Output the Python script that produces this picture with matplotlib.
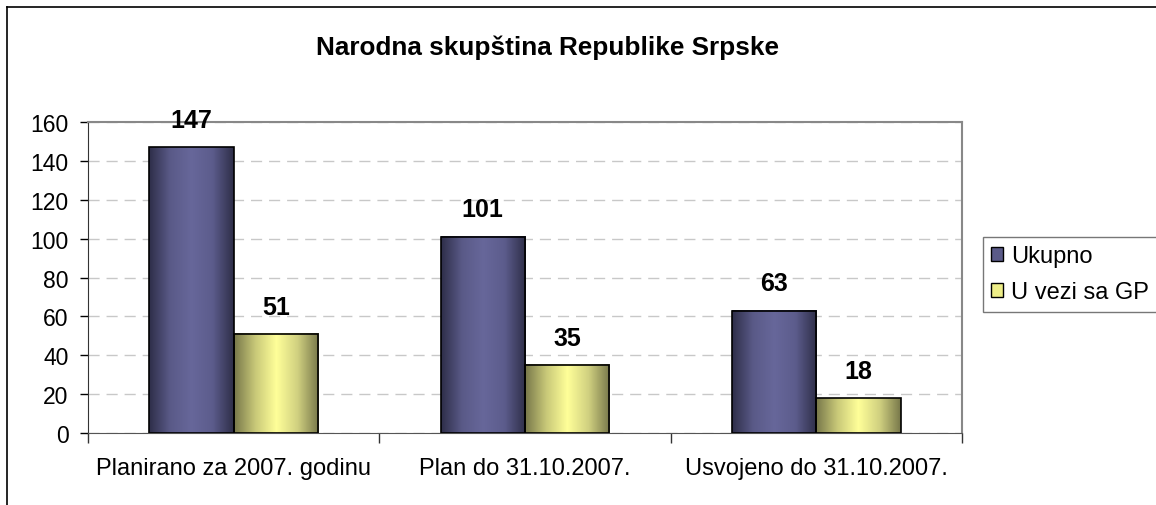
import numpy as np
import matplotlib.pyplot as plt
from matplotlib.colors import LinearSegmentedColormap
from matplotlib.lines import Line2D

plt.rcParams['font.family'] = ['Liberation Sans', 'DejaVu Sans']

# --- podaci ---
kategorije = ["Planirano za 2007. godinu", "Plan do 31.10.2007.", "Usvojeno do 31.10.2007."]
ukupno = [147, 101, 63]
u_vezi_sa_gp = [51, 35, 18]
serije = ["Ukupno", "U vezi sa GP"]
y_ticks = [0, 20, 40, 60, 80, 100, 120, 140, 160]

# boje (gradijent: rub - sredina - rub)
boje_ljub = ["#2e2e48", "#5a5a88", "#67679a", "#5c5c8c", "#2e2e48"]
boje_zuta = ["#77774a", "#c8c878", "#ffff99", "#d0d080", "#77774a"]
cmap_ljub = LinearSegmentedColormap.from_list("ljub", boje_ljub)
cmap_zuta = LinearSegmentedColormap.from_list("zuta", boje_zuta)

fig = plt.figure(figsize=(11.56, 5.06), dpi=100)
ax = fig.add_axes([88 / 1156, 1 - 434 / 506, (962 - 88) / 1156, (434 - 123) / 506])

x = np.arange(len(kategorije))
w = 0.29
grad = np.linspace(0, 1, 256).reshape(1, -1)

def crtaj(pozicije, vrijednosti, cmap, ime):
    bars = ax.bar(pozicije, vrijednosti, width=w, facecolor="none",
                  edgecolor="black", linewidth=1.2, zorder=4, label=ime)
    for b in bars:
        x0, y0 = b.get_x(), b.get_y()
        ax.imshow(grad, cmap=cmap, aspect="auto", zorder=3,
                  extent=(x0, x0 + b.get_width(), y0, y0 + b.get_height()))
    for px, v in zip(pozicije, vrijednosti):
        ax.annotate(str(v), (px, v), xytext=(0, 11), textcoords="offset points",
                    ha="center", va="bottom", fontsize=18, fontweight="bold")
    return bars

crtaj(x - w / 2, ukupno, cmap_ljub, serije[0])
crtaj(x + w / 2, u_vezi_sa_gp, cmap_zuta, serije[1])

ax.set_xlim(-0.5, len(kategorije) - 0.5)
ax.set_ylim(0, 160)
ax.set_yticks(y_ticks)
ax.tick_params(axis="y", labelsize=16.5, length=6, direction="out", width=1, pad=8)
ax.set_xticks(x)
ax.set_xticklabels(kategorije, fontsize=17)
ax.tick_params(axis="x", length=0, pad=17)
ax.set_xticks(np.arange(len(kategorije) + 1) - 0.5, minor=True)
ax.tick_params(axis="x", which="minor", length=7, width=1, color="#333333")

ax.yaxis.grid(True, linestyle=(0, (8, 5)), color="#c8c8c8", linewidth=1)
ax.set_axisbelow(True)
for s in ["top", "right"]:
    ax.spines[s].set_color("#888888")
    ax.spines[s].set_linewidth(1.5)
ax.spines["left"].set_color("#333333")
ax.spines["bottom"].set_color("#555555")

fig.text(0.474, 1 - 48 / 506, "Narodna skupština Republike Srpske", ha="center",
         va="center", fontsize=18.8, fontweight="bold")

# legenda
handles = [plt.Rectangle((0, 0), 1, 1, facecolor="#5a5a88", edgecolor="black"),
           plt.Rectangle((0, 0), 1, 1, facecolor="#eeee88", edgecolor="black")]
leg = fig.legend(handles, serije, loc="upper left",
                 bbox_to_anchor=(983 / 1156, 1 - 238 / 506), fontsize=17,
                 frameon=True, fancybox=False, handlelength=0.5, handleheight=0.5,
                 handletextpad=0.35, borderpad=0.35, labelspacing=0.6, borderaxespad=0)
leg.get_frame().set_edgecolor("#555555")
leg.get_frame().set_linewidth(1)

# okvir grafikona
fig.add_artist(Line2D([7 / 1156, 7 / 1156], [0, 1 - 8 / 506], transform=fig.transFigure,
                      color="black", linewidth=1.2))
fig.add_artist(Line2D([7 / 1156, 1], [1 - 8 / 506, 1 - 8 / 506], transform=fig.transFigure,
                      color="black", linewidth=1.2))

fig.savefig("out.png", dpi=100)
